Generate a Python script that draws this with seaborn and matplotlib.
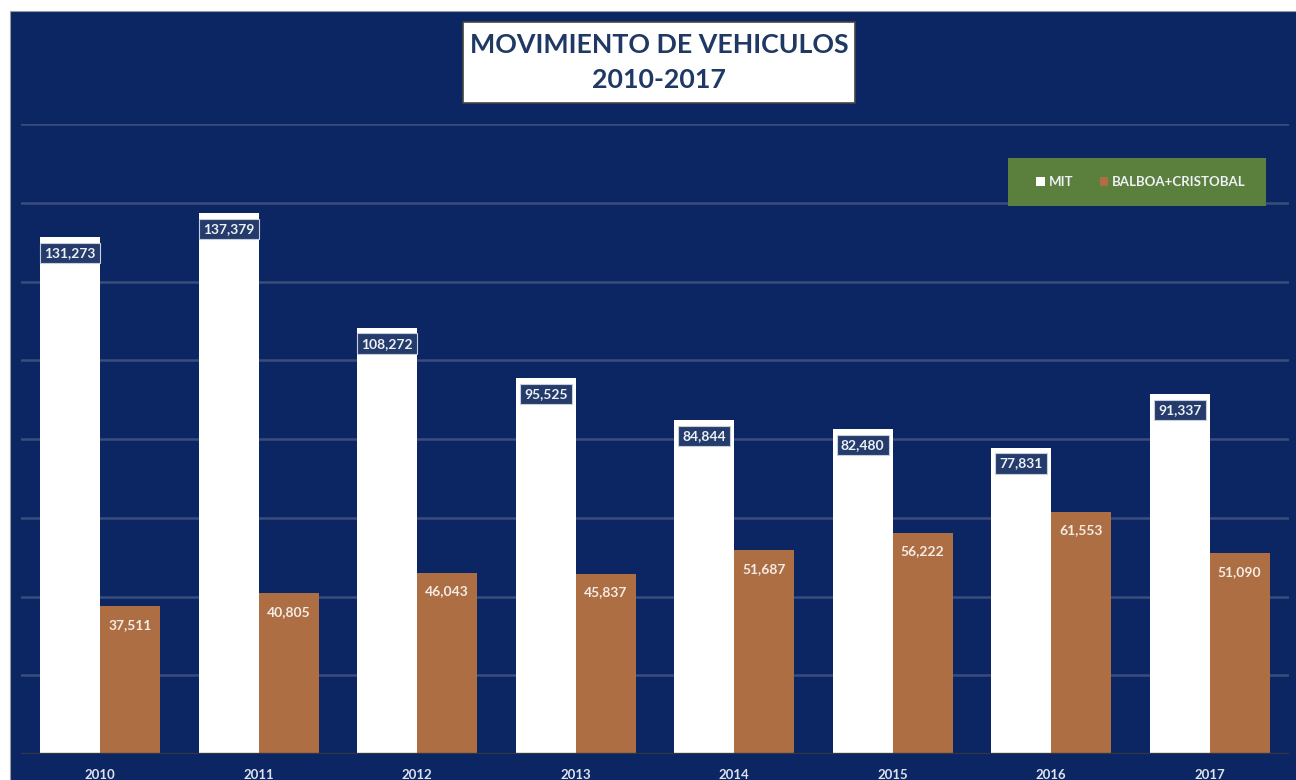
import matplotlib.pyplot as plt
from matplotlib.patches import Rectangle, Patch
import pandas as pd
import seaborn as sns

# datos
years = ["2010", "2011", "2012", "2013", "2014", "2015", "2016", "2017"]
mit = [131273, 137379, 108272, 95525, 84844, 82480, 77831, 91337]
balboa_cristobal = [37511, 40805, 46043, 45837, 51687, 56222, 61553, 51090]
series_names = ["MIT", "BALBOA+CRISTOBAL"]

NAVY = "#0b2662"
BROWN = "#ad6e43"
GREEN = "#5b7f3c"
BOX = "#243b6b"

df = pd.DataFrame({
    "Año": years * 2,
    "Serie": [series_names[0]] * len(years) + [series_names[1]] * len(years),
    "Vehiculos": mit + balboa_cristobal,
})

sns.set_style("white")
plt.rcParams['font.family'] = ['Lato', 'DejaVu Sans']

fig = plt.figure(figsize=(12.96, 7.8), dpi=100, facecolor="white")
# fondo azul del grafico (se sale por la derecha y abajo, como en el recorte)
fig.patches.append(Rectangle((10 / 1296, -0.05), 1.05, 1.05 - 11 / 780,
                             transform=fig.transFigure, facecolor=NAVY,
                             edgecolor="#9a9a9a", linewidth=0.8, zorder=0))

ax = fig.add_axes([21 / 1296, 26 / 780, 1268 / 1296, 630 / 780])
ax.set_facecolor("none")
ax.set_zorder(1)

sns.barplot(data=df, x="Año", y="Vehiculos", hue="Serie",
            palette=["white", BROWN], width=0.757, saturation=1,
            edgecolor="none", linewidth=0, ax=ax, legend=False, zorder=3)

ax.set_ylim(0, 160000)
ax.set_xlim(-0.5, len(years) - 0.5)
ax.set_yticks(range(20000, 160001, 20000))
ax.yaxis.grid(True, color="#3a4d7c", linewidth=1.8, zorder=0)
ax.set_yticklabels([])
ax.tick_params(axis="y", length=0)
ax.axhline(0, color="#33373f", linewidth=2.4, zorder=4)
for s in ax.spines.values():
    s.set_visible(False)

ax.set_xlabel("")
ax.set_ylabel("")
ax.tick_params(axis="x", length=0, pad=11, labelsize=9.5, labelcolor="#dde3ee")
for t in ax.get_xticklabels():
    t.set_fontweight("bold")

# etiquetas de datos
for bar, v in zip(ax.containers[0], mit):
    ax.annotate(f"{v:,}", (bar.get_x() + bar.get_width() / 2, bar.get_height()),
                xytext=(0, -11.5), textcoords="offset points", ha="center", va="center",
                fontsize=10, fontweight="bold", color="#eef1f6", zorder=6,
                bbox=dict(boxstyle="square,pad=0.3", facecolor=BOX,
                          edgecolor="#c8cfdc", linewidth=0.8))
for bar, v in zip(ax.containers[1], balboa_cristobal):
    ax.annotate(f"{v:,}", (bar.get_x() + bar.get_width() / 2, bar.get_height()),
                xytext=(0, -13.5), textcoords="offset points", ha="center", va="center",
                fontsize=10, fontweight="bold", color="#f4ece6", zorder=6)

# titulo en caja blanca
fig.patches.append(Rectangle((463 / 1296, 1 - 103 / 780), 392 / 1296, 81 / 780,
                             transform=fig.transFigure, facecolor="white",
                             edgecolor="#444444", linewidth=1.2, zorder=5))
fig.text(659 / 1296, 1 - 45 / 780, "MOVIMIENTO DE VEHICULOS", ha="center", va="center",
         fontsize=19.3, fontweight="bold", color="#1f3864", zorder=6)
fig.text(659 / 1296, 1 - 80 / 780, "2010-2017", ha="center", va="center",
         fontsize=19.3, fontweight="bold", color="#1f3864", zorder=6)

# leyenda sobre caja verde
fig.patches.append(Rectangle((1008 / 1296, 1 - 206 / 780), 258 / 1296, 48 / 780,
                             transform=fig.transFigure, facecolor=GREEN,
                             edgecolor="none", zorder=5))
handles = [Patch(facecolor="white", edgecolor="none", label=series_names[0]),
           Patch(facecolor=BROWN, edgecolor="none", label=series_names[1])]
leg = fig.legend(handles=handles, loc="center", ncol=2, frameon=False,
                 bbox_to_anchor=(1141 / 1296, 1 - 182 / 780),
                 handlelength=0.65, handleheight=0.65, handletextpad=0.3,
                 columnspacing=2.0, prop={"size": 9.5, "weight": "bold"})
for t in leg.get_texts():
    t.set_color("#eef1f6")
leg.set_zorder(7)

fig.savefig("out.png", dpi=100, facecolor="white")
